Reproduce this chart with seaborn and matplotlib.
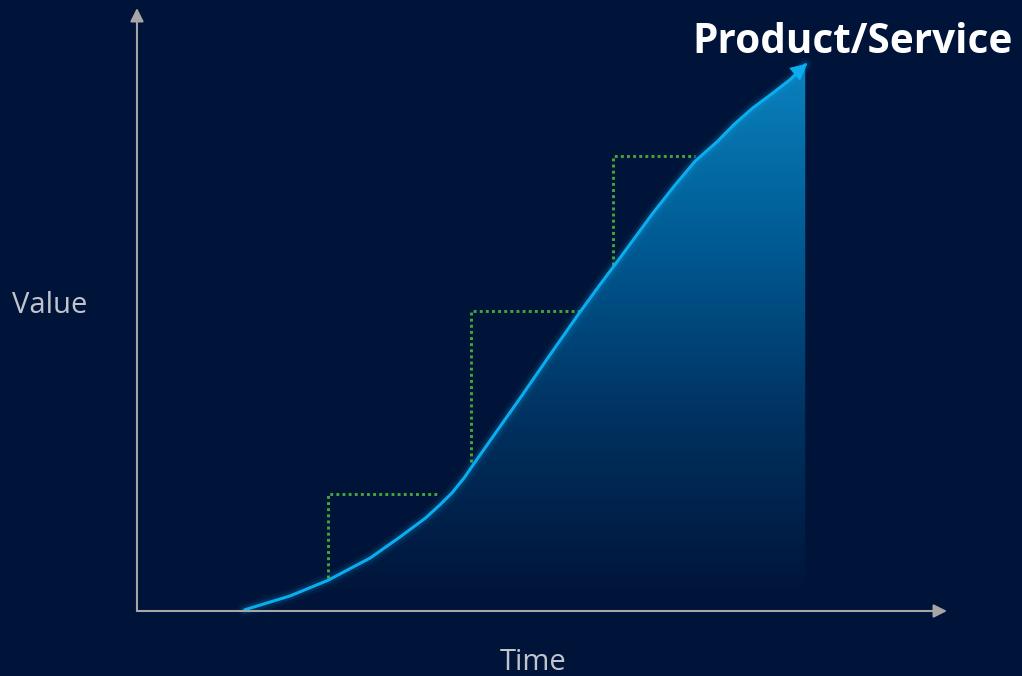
import numpy as np
import pandas as pd
import matplotlib.pyplot as plt
import seaborn as sns
from matplotlib.colors import LinearSegmentedColormap
from matplotlib.patches import Polygon

# values (axis percent: time 0-100, value 0-100)
curve_time = [13.3, 18.9, 23.6, 28.8, 32.5, 35.6, 37.4, 38.9, 40.4, 42.1, 44.2, 47.3,
              51.0, 54.7, 57.2, 59.6, 63.7, 66.4, 68.9, 71.6, 73.8, 76.0, 78.3, 80.7, 82.5]
curve_value = [0.2, 2.5, 5.1, 8.8, 12.3, 15.4, 17.6, 19.6, 22.1, 25.4, 29.4, 35.3,
               42.5, 49.6, 54.2, 58.5, 66.0, 70.6, 74.6, 77.8, 80.8, 83.4, 85.7, 88.2, 90.6]

# dotted green steps
step_time = [[23.6, 23.6, 37.2], [41.2, 41.2, 54.7], [58.8, 58.8, 68.9]]
step_value = [[5.5, 19.4, 19.4], [24.7, 49.8, 49.8], [57.4, 75.5, 75.5]]

title_text = 'Product/Service'
x_label = 'Time'
y_label = 'Value'

bg = '#001338'
curve_color = '#0aaef0'
step_color = '#45a63a'
axis_color = '#a6a6a6'

sns.set_theme(style='white', rc={'figure.facecolor': bg, 'axes.facecolor': bg})
plt.rcParams['font.family'] = ['Open Sans', 'DejaVu Sans']

fig = plt.figure(figsize=(10.22, 6.76), dpi=100)
ax = fig.add_axes([0, 0, 1, 1])
ax.set_xlim(-16.91, 109.26)
ax.set_ylim(-10.78, 101.33)
ax.axis('off')

curve = pd.DataFrame({'time': curve_time, 'value': curve_value})

# gradient fill under the curve
verts = list(zip(curve_time, curve_value)) + [(curve_time[-1], 1.5), (curve_time[0], 1.5)]
poly = Polygon(verts, closed=True, facecolor='none', edgecolor='none')
ax.add_patch(poly)
cmap = LinearSegmentedColormap.from_list('fill', [bg, '#00315f', '#005a93', '#0a82be'])
grad = np.linspace(0, 1, 256).reshape(-1, 1)
img = ax.imshow(grad, cmap=cmap, origin='lower', aspect='auto',
                extent=[curve_time[0], curve_time[-1], 1.5, max(curve_value)], zorder=1)
img.set_clip_path(poly)

# glow + curve
for lw, a in [(10, 0.06), (6, 0.12)]:
    sns.lineplot(data=curve, x='time', y='value', ax=ax, color=curve_color,
                 linewidth=lw, alpha=a, estimator=None, sort=False, zorder=2,
                 solid_joinstyle='round')
sns.lineplot(data=curve, x='time', y='value', ax=ax, color=curve_color,
             linewidth=2.2, estimator=None, sort=False, zorder=3,
             solid_joinstyle='round')
ax.annotate('', xy=(curve_time[-1] + 0.25, curve_value[-1] + 0.2),
            xytext=(curve_time[-3], curve_value[-3]),
            arrowprops=dict(arrowstyle='-|>', color=curve_color, lw=0,
                            mutation_scale=30, shrinkA=0, shrinkB=0), zorder=4)

# dotted steps
for sx, sy in zip(step_time, step_value):
    sns.lineplot(x=sx, y=sy, ax=ax, color=step_color, linewidth=2.1,
                 linestyle=(0, (1, 1.1)), estimator=None, sort=False, zorder=2)

# axes arrows
arrow = dict(arrowstyle='-|>', color=axis_color, lw=1.5, mutation_scale=20,
             shrinkA=0, shrinkB=0)
ax.annotate('', xy=(100, 0), xytext=(0, 0), arrowprops=arrow, zorder=5)
ax.annotate('', xy=(0, 100), xytext=(0, 0), arrowprops=arrow, zorder=5)

fig.text(0.991, 0.921, title_text, ha='right', va='baseline', color='white',
         fontsize=29.2, fontweight='bold')
fig.text(0.012, 0.548, y_label, ha='left', va='center', color='#c0c4cc', fontsize=21)
fig.text(0.522, 0.02, x_label, ha='center', va='center', color='#c0c4cc', fontsize=21)

fig.savefig('out.png', dpi=100, facecolor=bg)
